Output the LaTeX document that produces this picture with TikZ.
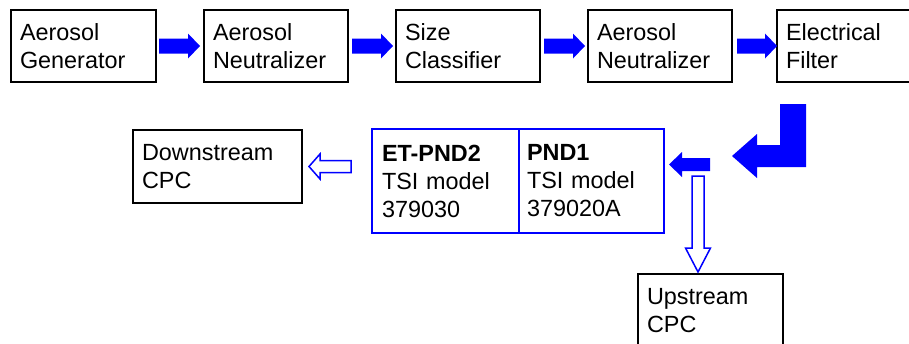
\documentclass[tikz,border=0pt]{standalone}
\usepackage{fontspec}
\setmainfont{Liberation Sans}
\usetikzlibrary{calc}
% #1 style, #2 tail, #3 tip, #4 half shaft width, #5 half head width, #6 head length
\newcommand\fatarr[6]{%
  \coordinate (fa-hb) at ($(#3)!#6!(#2)$);
  \path[#1] ($(#2)!#4!90:(#3)$) -- ($(fa-hb)!#4!90:(#3)$) -- ($(fa-hb)!#5!90:(#3)$) -- (#3)
    -- ($(fa-hb)!#5!-90:(#3)$) -- ($(fa-hb)!#4!-90:(#3)$) -- ($(#2)!#4!-90:(#3)$) -- cycle;
}
\begin{document}
\begin{tikzpicture}[x=1pt,y=-1pt,
  box/.style={draw, line width=2pt, inner xsep=9pt, inner ysep=1pt, align=left,
    anchor=north west, font=\fontsize{23.4}{28}\selectfont},
  pndbox/.style={box, draw=none},
  solidarr/.style={fill=blue, draw=none},
  hollowarr/.style={fill=white, draw=blue, line width=1.5pt, line join=miter},
]
\useasboundingbox (0,0) rectangle (909,343);
\clip (0,0) rectangle (909,343);
% top row
\node[box, text width=127pt, minimum height=72pt] (b1) at (10,9) {Aerosol\\Generator};
\node[box, text width=126pt, minimum height=72pt] (b2) at (203,9) {Aerosol\\Neutralizer};
\node[box, text width=126pt, minimum height=72pt] (b3) at (395,9) {Size\\Classifier};
\node[box, text width=126pt, minimum height=72pt] (b4) at (587,9) {Aerosol\\Neutralizer};
\node[box, text width=126pt, minimum height=72pt] (b5) at (776,9) {Electrical\\Filter};
% lower row
\node[box, text width=151pt, minimum height=73pt] (down) at (132,129) {Downstream\\CPC};
\node[pndbox, text width=127pt, minimum height=102pt] (pnd2) at (372,129) {\textbf{ET-PND2}\\TSI model\\379030};
\node[pndbox, text width=127pt, minimum height=102pt] (pnd1) at (517,129) {\textbf{PND1}\\TSI model\\379020A};
\draw[blue, line width=2.5pt] (pnd2.north west) rectangle (pnd1.south east);
\draw[blue, line width=2pt] (pnd2.north east) -- (pnd2.south east);
\node[box, text width=127pt, minimum height=73pt] (up) at (637,273) {Upstream\\CPC};
% top arrows
\coordinate (a1t) at ([xshift=2pt]b1.east);  \coordinate (a1h) at ([xshift=-3pt]b2.west);
\coordinate (a2t) at ([xshift=3pt]b2.east);  \coordinate (a2h) at ([xshift=-2pt]b3.west);
\coordinate (a3t) at ([xshift=3pt]b3.east);  \coordinate (a3h) at ([xshift=-2pt]b4.west);
\coordinate (a4t) at ([xshift=4pt]b4.east);  \coordinate (a4h) at ([xshift=1pt]b5.west);
\fatarr{solidarr}{a1t}{a1h}{7.5pt}{12.5pt}{12pt}
\fatarr{solidarr}{a2t}{a2h}{7.5pt}{12.5pt}{12pt}
\fatarr{solidarr}{a3t}{a3h}{7.5pt}{12.5pt}{12pt}
\fatarr{solidarr}{a4t}{a4h}{7.5pt}{12.5pt}{12pt}
% bent arrow
\fill[blue] (806,104) -- (806,167) -- (757,167) -- (757,178) -- (732,156) -- (757,134)
  -- (757,145) -- (780,145) -- (780,104) -- cycle;
% small filled arrow into PND1
\coordinate (s1t) at (710,164.5);
\path (pnd1.east |- s1t) ++(5,0) coordinate (s1h);
\fatarr{solidarr}{s1t}{s1h}{6.5pt}{12.5pt}{13pt}
% hollow arrow to downstream CPC
\coordinate (h1t) at ([xshift=48pt]down.east);
\coordinate (h1h) at ([xshift=6pt]down.east);
\fatarr{hollowarr}{h1t}{h1h}{6pt}{12.5pt}{11pt}
% hollow arrow to upstream CPC
\coordinate (h2t) at ([xshift=-12.5pt,yshift=97pt]up.north);
\coordinate (h2h) at ([xshift=-12.5pt,yshift=1pt]up.north);
\fatarr{hollowarr}{h2t}{h2h}{6pt}{12.5pt}{24pt}
\end{tikzpicture}
\end{document}
